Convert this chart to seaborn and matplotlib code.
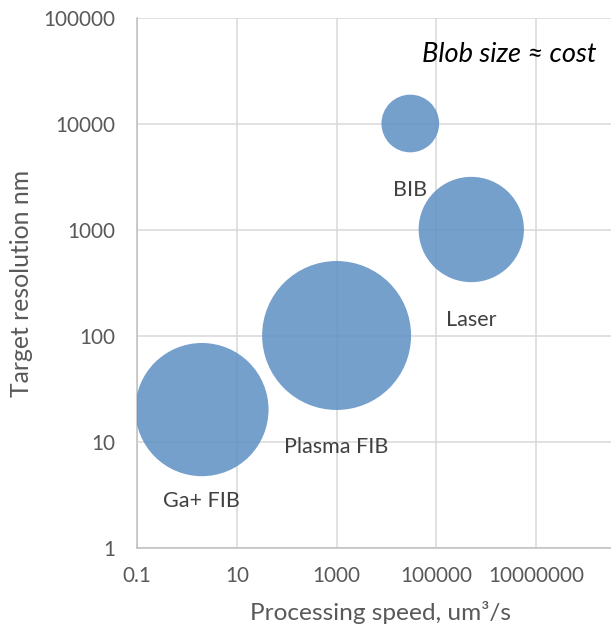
import matplotlib
matplotlib.use("Agg")
import numpy as np
import pandas as pd
import matplotlib.pyplot as plt
import seaborn as sns

# Processing technique comparison: speed vs. resolution, bubble area ~ cost
techniques = ["Ga+ FIB", "Plasma FIB", "BIB", "Laser"]
speed_um3_s = [2, 1000, 30000, 500000]
resolution_nm = [20, 100, 10000, 1000]
relative_cost = [0.8, 1.0, 0.15, 0.5]

x_tick_values = [0.1, 10, 1000, 100000, 10000000]
x_tick_labels = ["0.1", "10", "1000", "100000", "10000000"]
y_tick_values = [1, 10, 100, 1000, 10000, 100000]
y_tick_labels = ["1", "10", "100", "1000", "10000", "100000"]

df = pd.DataFrame({
    "technique": techniques,
    "speed": speed_um3_s,
    "resolution": resolution_nm,
    "cost": relative_cost,
})

sns.set_style("white")
plt.rcParams["font.family"] = ["Lato", "DejaVu Sans"]

W, H = 611, 631
fig = plt.figure(figsize=(W / 100, H / 100), dpi=100)
renderer = fig.canvas.get_renderer()


def size_for_width(text, width_px, **kw):
    """Font size (pt) at which `text` renders `width_px` pixels wide."""
    t = fig.text(0, 0, text, fontsize=10, **kw)
    w = t.get_window_extent(renderer).width
    t.remove()
    return 10 * width_px / w


# axes span 0.1 .. 1e9 horizontally; the right part runs past the canvas edge
left_px, right_px, top_px, bottom_px = 137, 636, 17.5, 547.5
ax = fig.add_axes([left_px / W, 1 - bottom_px / H,
                   (right_px - left_px) / W, (bottom_px - top_px) / H])

bubble_color = "#5d8fc4"
max_area = 11500  # marker area (pt^2) for the largest cost
sns.scatterplot(
    data=df, x="speed", y="resolution", size="cost",
    sizes=(0, max_area), size_norm=(0, 1),
    color=bubble_color, alpha=0.85, edgecolor="none", linewidth=0,
    legend=False, ax=ax, zorder=3,
)

ax.set_xscale("log")
ax.set_yscale("log")
ax.set_xlim(0.1, 1e9)
ax.set_ylim(1, 100000)

ax.set_xticks(x_tick_values + [1e9])
ax.set_xticklabels(x_tick_labels + [""])
ax.set_yticks(y_tick_values)
ax.set_yticklabels(y_tick_labels)
ax.minorticks_off()

tick_color = "#595959"
tick_size = size_for_width("10000000", 95)
ax.tick_params(axis="both", length=0, labelsize=tick_size, labelcolor=tick_color)
ax.tick_params(axis="x", pad=13)
ax.tick_params(axis="y", pad=16)

ax.grid(True, color="#d9d9d9", linewidth=1.1, zorder=0)
ax.set_axisbelow(True)
for side in ["top", "right"]:
    ax.spines[side].set_visible(False)
for side in ["left", "bottom"]:
    ax.spines[side].set_color("#bfbfbf")
    ax.spines[side].set_linewidth(1.1)

xlabel = "Processing speed, um³/s"
ylabel = "Target resolution nm"
ax.set_xlabel(xlabel, fontsize=size_for_width(xlabel, 260), color=tick_color,
              va="center", ha="center")
ax.set_ylabel(ylabel, fontsize=size_for_width(ylabel, 227), color=tick_color,
              va="center", ha="center")
ax.xaxis.set_label_coords((380 - left_px) / (right_px - left_px),
                          (bottom_px - 612) / (bottom_px - top_px))
ax.yaxis.set_label_coords((22 - left_px) / (right_px - left_px),
                          (bottom_px - 283) / (bottom_px - top_px))

# Labels under each bubble
label_size = size_for_width("Plasma FIB", 103)
label_gap_pt = [18, 27, 27, 27]
for name, xs, ys, c, gap in zip(techniques, speed_um3_s, resolution_nm,
                                relative_cost, label_gap_pt):
    radius_pt = np.sqrt(c * max_area) / 2
    ax.annotate(name, (xs, ys), xytext=(0, -(radius_pt + gap)),
                textcoords="offset points", ha="center", va="center",
                fontsize=label_size, color="#404040", zorder=4)

note = "Blob size ≈ cost"
fig.text(597 / W, 1 - 55 / H, note, ha="right", va="center",
         fontsize=size_for_width(note, 175, style="italic"),
         style="italic", color="black")

fig.savefig("out.png", dpi=100)
